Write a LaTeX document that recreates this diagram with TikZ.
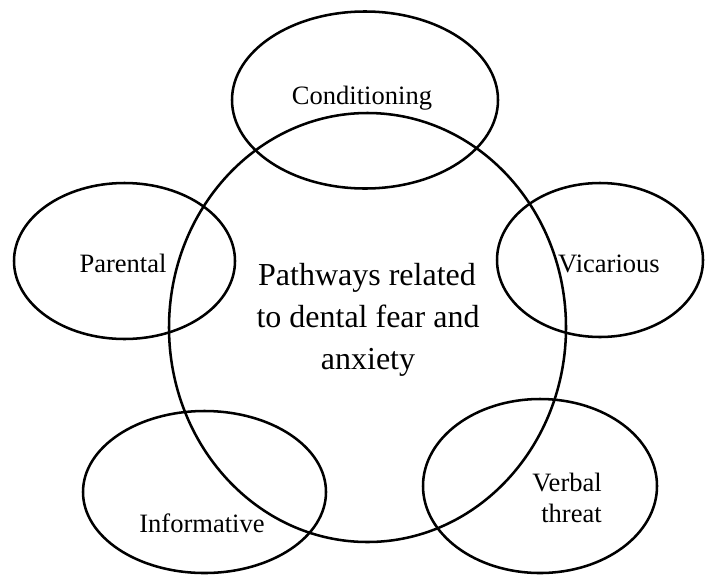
\documentclass[tikz,border=0pt]{standalone}
\usepackage{fontspec}
\setmainfont{Liberation Serif}
\usetikzlibrary{shapes.geometric}
\begin{document}
\begin{tikzpicture}[x=0.75pt, y=-0.75pt,
  ring/.style={draw=black, line width=1.9pt, ellipse, inner sep=0pt, outer sep=0pt},
  lbl/.style={inner sep=0pt, anchor=base, font=\fontsize{19.9}{23.3}\selectfont},
  hub/.style={inner sep=0pt, anchor=base, font=\fontsize{24}{31.5}\selectfont}]
\useasboundingbox (0,0) rectangle (705,575);

% central pathway circle
\node[ring, minimum width=397pt*0.75, minimum height=429pt*0.75] (core) at (367.5,327.5) {};

% surrounding pathways
\node[ring, minimum width=266pt*0.75, minimum height=177pt*0.75] (cond) at (365,100) {};
\node[ring, minimum width=221pt*0.75, minimum height=156pt*0.75] (par) at (124.5,261) {};
\node[ring, minimum width=206pt*0.75, minimum height=154pt*0.75] (vic) at (600,260) {};
\node[ring, minimum width=243pt*0.75, minimum height=162pt*0.75] (info) at (204.5,492) {};
\node[ring, minimum width=234pt*0.75, minimum height=174pt*0.75] (verb) at (540,486) {};

% labels
\node[lbl] (condtxt) at (362,104) {Conditioning};
\node[lbl] (partxt) at (123,272) {Parental};
\node[lbl] (victxt) at (609,272) {Vicarious};
\node[lbl] (infotxt) at (202,532) {Informative};
\node[lbl, anchor=base east] (verbtxtA) at (602,491) {Verbal};
\node[lbl, anchor=base east] (verbtxtB) at (602,522) {threat};

\node[hub] (coretxtA) at (367,285) {Pathways related};
\node[hub] (coretxtB) at (368,327) {to dental fear and};
\node[hub] (coretxtC) at (368,369) {anxiety};
\end{tikzpicture}
\end{document}
